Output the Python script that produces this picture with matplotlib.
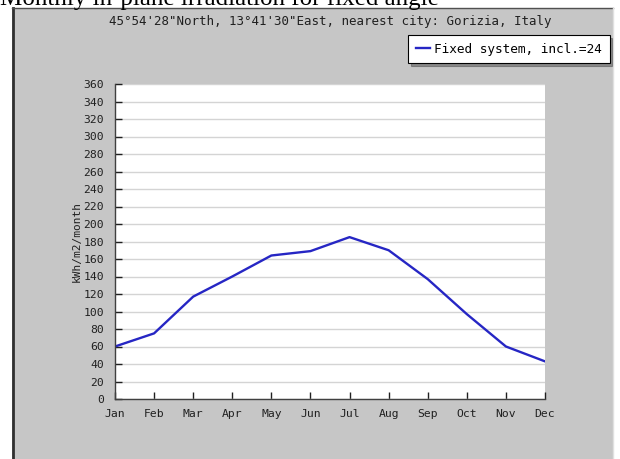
import matplotlib
matplotlib.use("Agg")
import matplotlib.pyplot as plt
from matplotlib.patches import Rectangle
from matplotlib.lines import Line2D

months = ["Jan", "Feb", "Mar", "Apr", "May", "Jun", "Jul", "Aug", "Sep", "Oct", "Nov", "Dec"]
irradiation = [60, 75, 117, 140, 164, 169, 185, 170, 137, 97, 60, 43]
yticks = list(range(0, 361, 20))

W, H = 620, 459
fig = plt.figure(figsize=(W / 100, H / 100), dpi=100)
fig.patch.set_facecolor("white")

PT = 7.5  # panel top in px

# gray panel
panel = Rectangle((12 / W, 0), 601 / W, (H - PT) / H, transform=fig.transFigure,
                  facecolor="#c6c6c6", edgecolor="none", zorder=-5)
fig.add_artist(panel)
fig.add_artist(Line2D([13 / W, 13 / W], [0, (H - PT) / H], transform=fig.transFigure,
                      color="#303030", lw=2, zorder=-4))
fig.add_artist(Line2D([12 / W, 613 / W], [(H - PT) / H, (H - PT) / H], transform=fig.transFigure,
                      color="#505050", lw=1, zorder=-4))
fig.add_artist(Line2D([612.5 / W, 612.5 / W], [0, (H - PT) / H], transform=fig.transFigure,
                      color="#e0e0e0", lw=1, zorder=-4))

fig.text(0, 1 - 5.5 / H, "Monthly in-plane irradiation for fixed angle",
         family="Liberation Serif", fontsize=18, va="baseline", ha="left", zorder=5)
fig.text(330 / W, 1 - 22 / H, "45\u00b054'28\"North, 13\u00b041'30\"East, nearest city: Gorizia, Italy",
         family="DejaVu Sans Mono", fontsize=9.0, ha="center", va="center", color="#202020")

ax = fig.add_axes([115 / W, (H - 399) / H, 430 / W, 315 / H])
ax.set_facecolor("white")
x = list(range(len(months)))
line, = ax.plot(x, irradiation, color="#2626c4", lw=1.7, label="Fixed system, incl.=24")
ax.set_xlim(0, 11)
ax.set_ylim(0, 360)
ax.set_yticks(yticks)
ax.set_xticks(x)
ax.set_xticklabels(months)
ax.grid(axis="y", color="#d4d4d4", lw=1)
ax.set_axisbelow(True)
for s in ["top", "right"]:
    ax.spines[s].set_visible(False)
for s in ["left", "bottom"]:
    ax.spines[s].set_color("#404040")
    ax.spines[s].set_linewidth(1)
ax.tick_params(direction="in", length=5, width=1, color="#202020", labelsize=8.2)
ax.tick_params(axis="y", pad=8)
ax.tick_params(axis="x", pad=7)
for lab in ax.get_xticklabels() + ax.get_yticklabels():
    lab.set_family("DejaVu Sans Mono")
    lab.set_color("#202020")
ax.set_ylabel("kWh/m2/month", family="DejaVu Sans Mono", fontsize=8, color="#202020", labelpad=1)

leg = fig.legend(handles=[line], loc="upper left", bbox_to_anchor=(408 / W, 1 - 35 / H),
                 prop={"family": "DejaVu Sans Mono", "size": 9.2}, frameon=True, fancybox=False,
                 shadow=True, handlelength=1.1, handletextpad=0.35, borderpad=0.6, borderaxespad=0)
leg.get_frame().set_edgecolor("black")
leg.get_frame().set_linewidth(0.8)

fig.savefig("out.png", dpi=100)
